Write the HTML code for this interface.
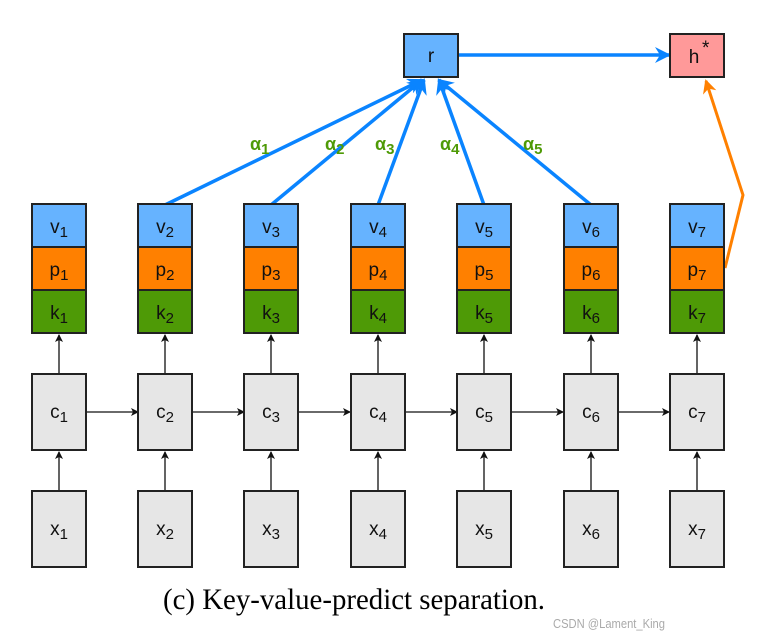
<!DOCTYPE html>
<html><head><meta charset="utf-8"><style>
html,body{margin:0;padding:0;background:#fff;}
svg{display:block}
.t{font-family:"Liberation Sans","DejaVu Sans",sans-serif;font-size:19px;fill:#111;}
.s{font-size:15px}
.a{font-family:"Liberation Sans","DejaVu Sans",sans-serif;font-size:18px;fill:#4e9a06;font-weight:bold}
</style></head><body>
<svg width="767" height="637" viewBox="0 0 767 637" xmlns="http://www.w3.org/2000/svg">
<defs>
<marker id="bk" markerWidth="8" markerHeight="8" refX="7" refY="4" orient="auto" markerUnits="userSpaceOnUse"><path d="M0,0 L8,4 L0,8 L2,4 z" fill="#111"/></marker>
<marker id="bl" markerWidth="16" markerHeight="16" refX="14" refY="8" orient="auto" markerUnits="userSpaceOnUse"><path d="M0,0 L16,8 L0,16 L5,8 z" fill="#0a84ff"/></marker>
<marker id="or" markerWidth="14" markerHeight="14" refX="12" refY="7" orient="auto" markerUnits="userSpaceOnUse"><path d="M0,0 L14,7 L0,14 L4,7 z" fill="#ff8000"/></marker>
</defs>
<g stroke="#0a84ff" stroke-width="3.5" fill="none">
<line x1="165" y1="205" x2="422" y2="80" marker-end="url(#bl)"/>
<line x1="271" y1="205" x2="422" y2="80" marker-end="url(#bl)"/>
<line x1="378" y1="205" x2="424" y2="80" marker-end="url(#bl)"/>
<line x1="484" y1="205" x2="439" y2="80" marker-end="url(#bl)"/>
<line x1="591" y1="205" x2="439" y2="80" marker-end="url(#bl)"/>
<line x1="458" y1="55" x2="669" y2="55" marker-end="url(#bl)"/>
</g>
<polyline points="725,268 743,195 706,81" stroke="#ff8000" stroke-width="3" fill="none" marker-end="url(#or)"/>
<rect x="404" y="34" width="54" height="43" fill="#66b3ff" stroke="#222" stroke-width="2"/>
<text x="431" y="62" class="t" text-anchor="middle">r</text>
<rect x="670" y="34" width="54" height="43" fill="#ff9999" stroke="#222" stroke-width="2"/>
<text x="694" y="63" class="t" text-anchor="middle">h</text><text x="702" y="54" class="t" font-size="15">*</text>
<text x="250" y="150" class="a">α<tspan class="s" dy="4">1</tspan></text>
<text x="325" y="150" class="a">α<tspan class="s" dy="4">2</tspan></text>
<text x="375" y="150" class="a">α<tspan class="s" dy="4">3</tspan></text>
<text x="440" y="150" class="a">α<tspan class="s" dy="4">4</tspan></text>
<text x="523" y="150" class="a">α<tspan class="s" dy="4">5</tspan></text>
<g stroke="#111" stroke-width="1.3" fill="none">
<line x1="59" y1="374" x2="59" y2="335" marker-end="url(#bk)"/><line x1="59" y1="491" x2="59" y2="452" marker-end="url(#bk)"/><line x1="86" y1="412" x2="138" y2="412" marker-end="url(#bk)"/>
<line x1="165" y1="374" x2="165" y2="335" marker-end="url(#bk)"/><line x1="165" y1="491" x2="165" y2="452" marker-end="url(#bk)"/><line x1="192" y1="412" x2="244" y2="412" marker-end="url(#bk)"/>
<line x1="271" y1="374" x2="271" y2="335" marker-end="url(#bk)"/><line x1="271" y1="491" x2="271" y2="452" marker-end="url(#bk)"/><line x1="298" y1="412" x2="350" y2="412" marker-end="url(#bk)"/>
<line x1="378" y1="374" x2="378" y2="335" marker-end="url(#bk)"/><line x1="378" y1="491" x2="378" y2="452" marker-end="url(#bk)"/><line x1="405" y1="412" x2="457" y2="412" marker-end="url(#bk)"/>
<line x1="484" y1="374" x2="484" y2="335" marker-end="url(#bk)"/><line x1="484" y1="491" x2="484" y2="452" marker-end="url(#bk)"/><line x1="511" y1="412" x2="563" y2="412" marker-end="url(#bk)"/>
<line x1="591" y1="374" x2="591" y2="335" marker-end="url(#bk)"/><line x1="591" y1="491" x2="591" y2="452" marker-end="url(#bk)"/><line x1="618" y1="412" x2="669" y2="412" marker-end="url(#bk)"/>
<line x1="697" y1="374" x2="697" y2="335" marker-end="url(#bk)"/><line x1="697" y1="491" x2="697" y2="452" marker-end="url(#bk)"/>
</g>
<g stroke="#222" stroke-width="2">
<rect x="32" y="204" width="54" height="43" fill="#66b3ff"/><rect x="32" y="247" width="54" height="43" fill="#ff8000"/><rect x="32" y="290" width="54" height="43" fill="#4e9a06"/><rect x="32" y="374" width="54" height="76" fill="#e6e6e6"/><rect x="32" y="491" width="54" height="76" fill="#e6e6e6"/>
<rect x="138" y="204" width="54" height="43" fill="#66b3ff"/><rect x="138" y="247" width="54" height="43" fill="#ff8000"/><rect x="138" y="290" width="54" height="43" fill="#4e9a06"/><rect x="138" y="374" width="54" height="76" fill="#e6e6e6"/><rect x="138" y="491" width="54" height="76" fill="#e6e6e6"/>
<rect x="244" y="204" width="54" height="43" fill="#66b3ff"/><rect x="244" y="247" width="54" height="43" fill="#ff8000"/><rect x="244" y="290" width="54" height="43" fill="#4e9a06"/><rect x="244" y="374" width="54" height="76" fill="#e6e6e6"/><rect x="244" y="491" width="54" height="76" fill="#e6e6e6"/>
<rect x="351" y="204" width="54" height="43" fill="#66b3ff"/><rect x="351" y="247" width="54" height="43" fill="#ff8000"/><rect x="351" y="290" width="54" height="43" fill="#4e9a06"/><rect x="351" y="374" width="54" height="76" fill="#e6e6e6"/><rect x="351" y="491" width="54" height="76" fill="#e6e6e6"/>
<rect x="457" y="204" width="54" height="43" fill="#66b3ff"/><rect x="457" y="247" width="54" height="43" fill="#ff8000"/><rect x="457" y="290" width="54" height="43" fill="#4e9a06"/><rect x="457" y="374" width="54" height="76" fill="#e6e6e6"/><rect x="457" y="491" width="54" height="76" fill="#e6e6e6"/>
<rect x="564" y="204" width="54" height="43" fill="#66b3ff"/><rect x="564" y="247" width="54" height="43" fill="#ff8000"/><rect x="564" y="290" width="54" height="43" fill="#4e9a06"/><rect x="564" y="374" width="54" height="76" fill="#e6e6e6"/><rect x="564" y="491" width="54" height="76" fill="#e6e6e6"/>
<rect x="670" y="204" width="54" height="43" fill="#66b3ff"/><rect x="670" y="247" width="54" height="43" fill="#ff8000"/><rect x="670" y="290" width="54" height="43" fill="#4e9a06"/><rect x="670" y="374" width="54" height="76" fill="#e6e6e6"/><rect x="670" y="491" width="54" height="76" fill="#e6e6e6"/>
</g>
<g class="t" text-anchor="middle">
<text x="59" y="233">v<tspan class="s" dy="4">1</tspan></text><text x="59" y="276">p<tspan class="s" dy="4">1</tspan></text><text x="59" y="319">k<tspan class="s" dy="4">1</tspan></text><text x="59" y="418">c<tspan class="s" dy="4">1</tspan></text><text x="59" y="535">x<tspan class="s" dy="4">1</tspan></text>
<text x="165" y="233">v<tspan class="s" dy="4">2</tspan></text><text x="165" y="276">p<tspan class="s" dy="4">2</tspan></text><text x="165" y="319">k<tspan class="s" dy="4">2</tspan></text><text x="165" y="418">c<tspan class="s" dy="4">2</tspan></text><text x="165" y="535">x<tspan class="s" dy="4">2</tspan></text>
<text x="271" y="233">v<tspan class="s" dy="4">3</tspan></text><text x="271" y="276">p<tspan class="s" dy="4">3</tspan></text><text x="271" y="319">k<tspan class="s" dy="4">3</tspan></text><text x="271" y="418">c<tspan class="s" dy="4">3</tspan></text><text x="271" y="535">x<tspan class="s" dy="4">3</tspan></text>
<text x="378" y="233">v<tspan class="s" dy="4">4</tspan></text><text x="378" y="276">p<tspan class="s" dy="4">4</tspan></text><text x="378" y="319">k<tspan class="s" dy="4">4</tspan></text><text x="378" y="418">c<tspan class="s" dy="4">4</tspan></text><text x="378" y="535">x<tspan class="s" dy="4">4</tspan></text>
<text x="484" y="233">v<tspan class="s" dy="4">5</tspan></text><text x="484" y="276">p<tspan class="s" dy="4">5</tspan></text><text x="484" y="319">k<tspan class="s" dy="4">5</tspan></text><text x="484" y="418">c<tspan class="s" dy="4">5</tspan></text><text x="484" y="535">x<tspan class="s" dy="4">5</tspan></text>
<text x="591" y="233">v<tspan class="s" dy="4">6</tspan></text><text x="591" y="276">p<tspan class="s" dy="4">6</tspan></text><text x="591" y="319">k<tspan class="s" dy="4">6</tspan></text><text x="591" y="418">c<tspan class="s" dy="4">6</tspan></text><text x="591" y="535">x<tspan class="s" dy="4">6</tspan></text>
<text x="697" y="233">v<tspan class="s" dy="4">7</tspan></text><text x="697" y="276">p<tspan class="s" dy="4">7</tspan></text><text x="697" y="319">k<tspan class="s" dy="4">7</tspan></text><text x="697" y="418">c<tspan class="s" dy="4">7</tspan></text><text x="697" y="535">x<tspan class="s" dy="4">7</tspan></text>
</g>
<text x="163" y="609" font-family="Liberation Serif,serif" font-size="30" fill="#000" textLength="382" lengthAdjust="spacingAndGlyphs">(c) Key-value-predict separation.</text>
<text x="553" y="628" font-family="Liberation Sans,sans-serif" font-size="13" fill="#aaa" textLength="112" lengthAdjust="spacingAndGlyphs">CSDN @Lament_King</text>
</svg>
</body></html>
